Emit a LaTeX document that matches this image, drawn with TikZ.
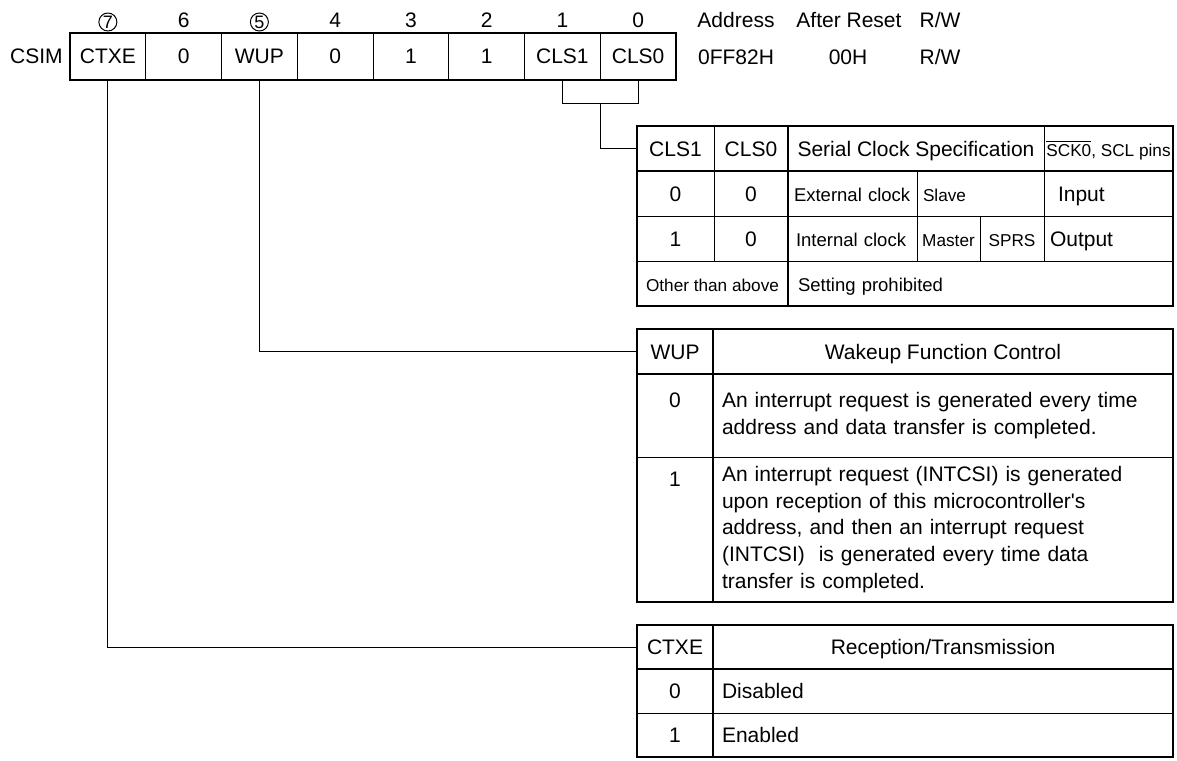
\documentclass[tikz,border=0pt]{standalone}
\usepackage{fontspec}
\setmainfont{Liberation Sans}
\usetikzlibrary{positioning,calc}
\newcommand{\fmain}{\fontsize{10.5pt}{13.35pt}\selectfont}
\newcommand{\fsmall}{\fontsize{9.25pt}{11pt}\selectfont}
\newcommand{\ftiny}{\fontsize{8.6pt}{10pt}\selectfont}

\begin{document}
\begin{tikzpicture}[x=1pt,y=-1pt,
  reg/.style={draw,line width=0.5pt,inner sep=0pt,outer sep=0pt,minimum width=37.875pt,minimum height=23.5pt,font=\fmain},
  bitno/.style={anchor=base,inner sep=0pt,font=\fmain},
  circno/.style={circle,draw,line width=0.5pt,inner sep=0pt,minimum size=9pt,font=\fontsize{9pt}{9pt}\selectfont},
  info/.style={inner sep=0pt,font=\fmain},
  cell/.style={draw,line width=0.5pt,inner sep=0pt,outer sep=0pt,anchor=north west,font=\fmain,text height=7.5pt,text depth=0pt},
  lcell/.style 2 args={cell,align=left,text width=#1,inner xsep=#2},
  tcell/.style={draw,line width=0.5pt,outer sep=0pt,anchor=north west,font=\fmain,align=left,text width=221pt,inner xsep=4.5pt,inner ysep=0pt},
  rowno/.style={anchor=north,inner sep=0pt,font=\fmain},
  frame/.style={line width=1.3pt},
  wire/.style={line width=0.5pt}
]
\useasboundingbox (0,0) rectangle (588.5,380);

% register
\node[reg,anchor=north west] (r7) at (35,16.5) {CTXE};
\node[reg,right=0pt of r7] (r6) {0};
\node[reg,right=0pt of r6] (r5) {WUP};
\node[reg,right=0pt of r5] (r4) {0};
\node[reg,right=0pt of r4] (r3) {1};
\node[reg,right=0pt of r3] (r2) {1};
\node[reg,right=0pt of r2] (r1) {CLS1};
\node[reg,right=0pt of r1] (r0) {CLS0};
\draw[frame] (r7.north west) rectangle (r0.south east);
\node[info,left=3.5pt of r7] (csim) {CSIM};

\node[circno] (n7) at ($(r7.north)+(0,-5.5)$) {7};
\node[bitno] (n6) at ($(r6.north)+(0,-2.75)$) {6};
\node[circno] (n5) at ($(r5.north)+(0,-5.5)$) {5};
\node[bitno] (n4) at ($(r4.north)+(0,-2.75)$) {4};
\node[bitno] (n3) at ($(r3.north)+(0,-2.75)$) {3};
\node[bitno] (n2) at ($(r2.north)+(0,-2.75)$) {2};
\node[bitno] (n1) at ($(r1.north)+(0,-2.75)$) {1};
\node[bitno] (n0) at ($(r0.north)+(0,-2.75)$) {0};

\node[bitno] (addr) at (368,13.75) {Address};
\node[bitno] (rst) at (424.5,13.75) {After Reset};
\node[bitno] (rw) at (470,13.75) {R/W};
\node[bitno] (addrv) at (368,32.25) {0FF82H};
\node[bitno] (rstv) at (424,32.25) {00H};
\node[bitno] (rwv) at (470,32.25) {R/W};

% CLS1, CLS0 table
\node[cell,minimum width=38.5pt,minimum height=22.5pt] (clsh1) at (318.5,63) {CLS1};
\node[cell,minimum width=37pt,minimum height=22.5pt] (clsh0) at (357,63) {CLS0};
\node[cell,minimum width=128pt,minimum height=22.5pt] (clshs) at (394,63) {Serial Clock Specification};
\node[cell,minimum width=64.5pt,minimum height=22.5pt,font=\ftiny] (clshp) at (522,63) {$\overline{\hbox{SCK0}}$, SCL pins};

\node[cell,minimum width=38.5pt,minimum height=22.5pt] (clsa1) at (318.5,85.5) {0};
\node[cell,minimum width=37pt,minimum height=22.5pt] (clsa0) at (357,85.5) {0};
\node[lcell={58.5pt}{3pt},minimum height=22.5pt,font=\fsmall] (clsac) at (394,85.5) {External clock};
\node[lcell={57.5pt}{3pt},minimum height=22.5pt,font=\ftiny] (clsam) at (458.5,85.5) {Slave};
\node[lcell={50.5pt}{7pt},minimum height=22.5pt] (clsap) at (522,85.5) {Input};

\node[cell,minimum width=38.5pt,minimum height=22.5pt] (clsb1) at (318.5,108) {1};
\node[cell,minimum width=37pt,minimum height=22.5pt] (clsb0) at (357,108) {0};
\node[lcell={56.5pt}{4pt},minimum height=22.5pt,font=\fsmall] (clsbc) at (394,108) {Internal clock};
\node[cell,minimum width=31.5pt,minimum height=22.5pt,font=\ftiny] (clsbm) at (458.5,108) {Master};
\node[cell,minimum width=32pt,minimum height=22.5pt,font=\ftiny] (clsbs) at (490,108) {SPRS};
\node[lcell={58.5pt}{3pt},minimum height=22.5pt] (clsbp) at (522,108) {Output};

\node[cell,minimum width=75.5pt,minimum height=22.5pt,font=\ftiny] (clsco) at (318.5,130.5) {Other than above};
\node[lcell={182.5pt}{5pt},minimum height=22.5pt,font=\fsmall] (clscs) at (394,130.5) {Setting prohibited};

\draw[frame] (clsh1.north west) rectangle (clscs.south east);
\draw[frame] (clsh0.north east) -- (clsco.south east);
\draw[frame] (clsh1.south west) -- (clshp.south east);

% WUP table
\node[cell,minimum width=38pt,minimum height=22.5pt] (wuph) at (318.5,164.5) {WUP};
\node[cell,minimum width=230pt,minimum height=22.5pt] (wupt) at (356.5,164.5) {Wakeup Function Control};
\node[cell,minimum width=38pt,minimum height=41.5pt,label={[rowno,yshift=-9.25pt]north:0}] (wup0n) at (318.5,187) {};
\node[tcell,minimum height=41.5pt] (wup0t) at (356.5,187) {An interrupt request is generated every time\\address and data transfer is completed.};
\node[cell,minimum width=38pt,minimum height=72.5pt,label={[rowno,yshift=-7.25pt]north:1}] (wup1n) at (318.5,228.5) {};
\node[tcell,minimum height=72.5pt] (wup1t) at (356.5,228.5) {An interrupt request (INTCSI) is generated\\upon reception of this microcontroller\textquotesingle s\\address, and then an interrupt request\\(INTCSI)~ is generated every time data\\transfer is completed.};

\draw[frame] (wuph.north west) rectangle (wup1t.south east);
\draw[frame] (wuph.north east) -- (wup1n.south east);
\draw[frame] (wuph.south west) -- (wupt.south east);

% CTXE table
\node[cell,minimum width=38pt,minimum height=22pt] (ctxh) at (318.5,312.5) {CTXE};
\node[cell,minimum width=230pt,minimum height=22pt] (ctxt) at (356.5,312.5) {Reception/Transmission};
\node[cell,minimum width=38pt,minimum height=22pt] (ctx0n) at (318.5,334.5) {0};
\node[lcell={221pt}{4.5pt},minimum height=22pt] (ctx0t) at (356.5,334.5) {Disabled};
\node[cell,minimum width=38pt,minimum height=22pt] (ctx1n) at (318.5,356.5) {1};
\node[lcell={221pt}{4.5pt},minimum height=22pt] (ctx1t) at (356.5,356.5) {Enabled};

\draw[frame] (ctxh.north west) rectangle (ctx1t.south east);
\draw[frame] (ctxh.north east) -- (ctx1n.south east);
\draw[frame] (ctxh.south west) -- (ctxt.south east);

% connectors
\draw[wire] (r1.south) -- ++(0,11.5) -| (r0.south);
\coordinate (clsjoin) at ($(r1.south)!0.5!(r0.south)+(0,11.5)$);
\draw[wire] (clsjoin) |- (clsh1.west);
\draw[wire] (r5.south) |- (wuph.west);
\draw[wire] (r7.south) |- (ctxh.west);
\end{tikzpicture}
\end{document}
